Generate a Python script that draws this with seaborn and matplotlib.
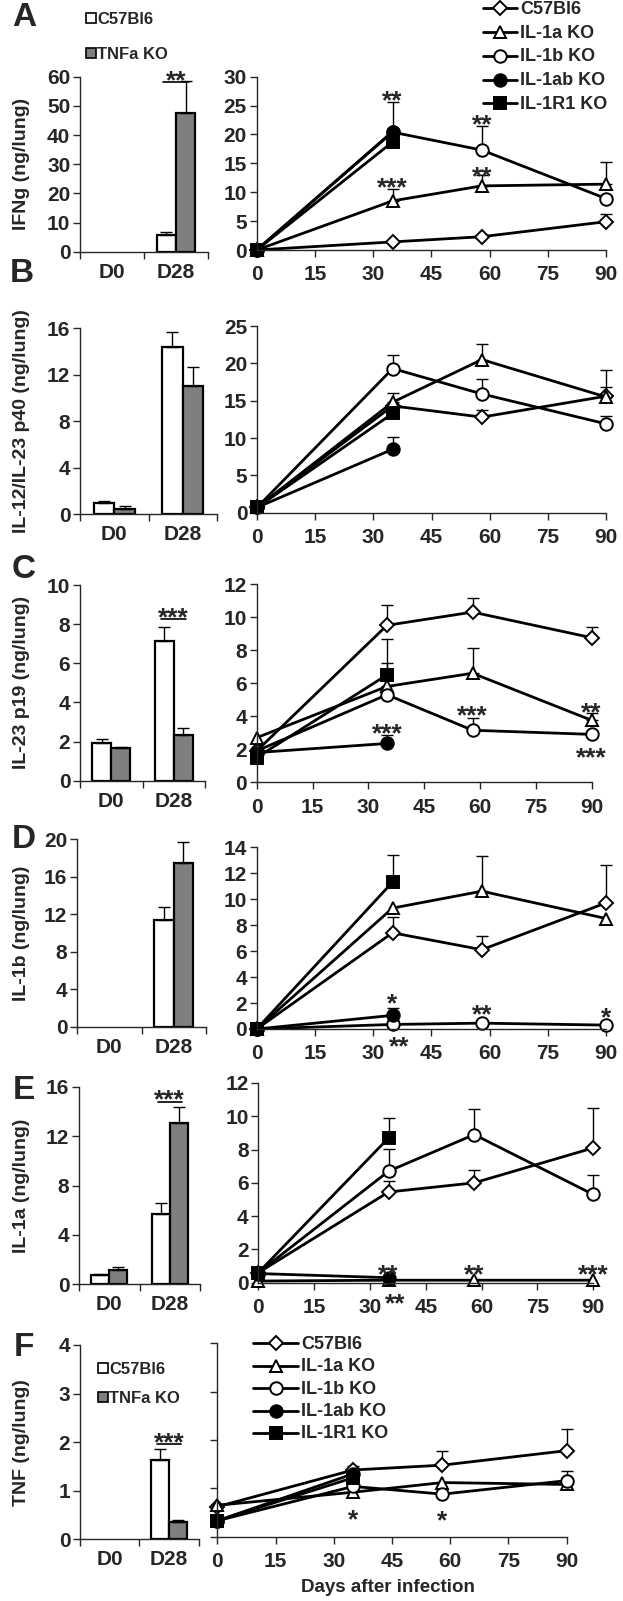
import numpy as np
import pandas as pd
import matplotlib
matplotlib.use('Agg')
import matplotlib.pyplot as plt
import seaborn as sns
from matplotlib.lines import Line2D
from matplotlib.patches import Rectangle

nan = np.nan

days = [0, 35, 58, 90]
strains = ['C57Bl6', 'IL-1a KO', 'IL-1b KO', 'IL-1ab KO', 'IL-1R1 KO']
bar_days = ['D0', 'D28']
bar_strains = ['C57Bl6', 'TNFa KO']

# A - IFNg
ifng_bar = {'C57Bl6': [0, 5.8], 'TNFa KO': [0, 47.4]}
ifng_bar_err = {'C57Bl6': [nan, 0.9], 'TNFa KO': [nan, 11.1]}
ifng = {'C57Bl6': [0, 1.4, 2.3, 4.9],
        'IL-1a KO': [0, 8.5, 11.1, 11.4],
        'IL-1b KO': [0, 20.4, 17.3, 8.9],
        'IL-1ab KO': [0, 20.5, nan, nan],
        'IL-1R1 KO': [0, 18.7, nan, nan]}
ifng_err = {'C57Bl6': [nan, nan, nan, 1.3],
            'IL-1a KO': [nan, 2.1, 1.9, 3.9],
            'IL-1b KO': [nan, nan, 4.2, 0.7],
            'IL-1ab KO': [nan, 5.1, nan, nan],
            'IL-1R1 KO': [nan, nan, nan, nan]}
ifng_stars = [(35, 27.1, '**'), (58, 23.1, '**'), (35, 12.1, '***'), (58, 14.1, '**')]

# B - IL-12/IL-23 p40
p40_bar = {'C57Bl6': [0.92, 14.4], 'TNFa KO': [0.46, 11.05]}
p40_bar_err = {'C57Bl6': [0.23, 1.3], 'TNFa KO': [0.23, 1.65]}
p40 = {'C57Bl6': [0.7, 14.3, 12.8, 15.6],
       'IL-1a KO': [0.7, 14.8, 20.5, 15.5],
       'IL-1b KO': [0.7, 19.3, 15.9, 11.9],
       'IL-1ab KO': [0.7, 8.5, nan, nan],
       'IL-1R1 KO': [0.7, 13.3, nan, nan]}
p40_err = {'C57Bl6': [nan, nan, 1.0, 1.2],
           'IL-1a KO': [nan, 1.2, 2.1, 3.6],
           'IL-1b KO': [nan, 1.8, 2.0, 1.1],
           'IL-1ab KO': [nan, 1.7, nan, nan],
           'IL-1R1 KO': [nan, nan, nan, nan]}
p40_stars = []

# C - IL-23 p19
p19_bar = {'C57Bl6': [1.95, 7.15], 'TNFa KO': [1.65, 2.35]}
p19_bar_err = {'C57Bl6': [0.2, 0.7], 'TNFa KO': [0.08, 0.35]}
p19 = {'C57Bl6': [1.9, 9.5, 10.3, 8.75],
       'IL-1a KO': [2.7, 5.8, 6.6, 3.75],
       'IL-1b KO': [1.9, 5.3, 3.15, 2.9],
       'IL-1ab KO': [1.8, 2.35, nan, nan],
       'IL-1R1 KO': [1.5, 6.5, nan, nan]}
p19_err = {'C57Bl6': [nan, 1.2, 0.85, 0.65],
           'IL-1a KO': [nan, 1.4, 1.5, 0.45],
           'IL-1b KO': [nan, nan, 0.75, nan],
           'IL-1ab KO': [nan, 0.5, nan, nan],
           'IL-1R1 KO': [nan, 2.2, nan, nan]}
p19_stars = [(35, 3.4, '***'), (58, 4.5, '***'), (90, 4.7, '**'), (90, 1.95, '***')]

# D - IL-1b
il1b_bar = {'C57Bl6': [0, 11.4], 'TNFa KO': [0, 17.5]}
il1b_bar_err = {'C57Bl6': [nan, 1.4], 'TNFa KO': [nan, 2.2]}
il1b = {'C57Bl6': [0, 7.4, 6.1, 9.7],
        'IL-1a KO': [0, 9.3, 10.6, 8.5],
        'IL-1b KO': [0, 0.35, 0.45, 0.3],
        'IL-1ab KO': [0, 1.05, nan, nan],
        'IL-1R1 KO': [0, 11.3, nan, nan]}
il1b_err = {'C57Bl6': [nan, 1.2, 1.05, 2.9],
            'IL-1a KO': [nan, nan, 2.7, nan],
            'IL-1b KO': [nan, nan, nan, nan],
            'IL-1ab KO': [nan, 0.6, nan, nan],
            'IL-1R1 KO': [nan, 2.1, nan, nan]}
il1b_stars = [(35, 2.5, '*'), (58, 1.7, '**'), (90, 1.45, '*'), (36.8, -0.8, '**')]

# E - IL-1a
il1a_bar = {'C57Bl6': [0.75, 5.7], 'TNFa KO': [1.15, 13.1]}
il1a_bar_err = {'C57Bl6': [0.05, 0.9], 'TNFa KO': [0.25, 1.25]}
il1a = {'C57Bl6': [0.6, 5.45, 6.0, 8.1],
        'IL-1a KO': [0.1, 0.15, 0.15, 0.15],
        'IL-1b KO': [0.6, 6.7, 8.9, 5.3],
        'IL-1ab KO': [0.55, 0.3, nan, nan],
        'IL-1R1 KO': [0.6, 8.7, nan, nan]}
il1a_err = {'C57Bl6': [nan, 0.65, 0.75, 2.4],
            'IL-1a KO': [nan, nan, nan, nan],
            'IL-1b KO': [nan, 1.35, 1.55, 1.2],
            'IL-1ab KO': [nan, nan, nan, nan],
            'IL-1R1 KO': [nan, 1.2, nan, nan]}
il1a_stars = [(35, 0.95, '**'), (58, 0.95, '**'), (90, 0.95, '***'), (36.8, -0.8, '**')]

# F - TNF
tnf_bar = {'C57Bl6': [0, 1.63], 'TNFa KO': [0, 0.36]}
tnf_bar_err = {'C57Bl6': [nan, 0.23], 'TNFa KO': [nan, 0.04]}
tnf = {'C57Bl6': [0.62, 1.38, 1.48, 1.78],
       'IL-1a KO': [0.65, 0.92, 1.12, 1.08],
       'IL-1b KO': [0.33, 1.04, 0.88, 1.16],
       'IL-1ab KO': [0.33, 1.3, nan, nan],
       'IL-1R1 KO': [0.33, 1.22, nan, nan]}
tnf_err = {'C57Bl6': [nan, 0.08, 0.3, 0.45],
           'IL-1a KO': [nan, nan, nan, nan],
           'IL-1b KO': [nan, nan, nan, 0.2],
           'IL-1ab KO': [nan, nan, nan, nan],
           'IL-1R1 KO': [nan, nan, nan, nan]}
tnf_stars = [(35, 0.52, '*'), (58, 0.5, '*')]

sns.set_style('ticks')
plt.rcParams['font.family'] = ['Liberation Sans', 'DejaVu Sans']
plt.rcParams['font.weight'] = 'bold'
plt.rcParams['axes.linewidth'] = 1.0

TICK = 15
LEG = 13
STAR = 19
GREY = '#7f7f7f'

W, H = 623, 1601
fig = plt.figure(figsize=(W / 100, H / 100), dpi=100)

markers = {'C57Bl6': ('D', 'white', 7),
           'IL-1a KO': ('^', 'white', 9),
           'IL-1b KO': ('o', 'white', 9),
           'IL-1ab KO': ('o', 'black', 9),
           'IL-1R1 KO': ('s', 'black', 8)}

# letter, ylabel, bar data, line data, axis ranges, sig, boxes (left, right, top, bottom px)
panels = [
    ('A', 'IFNg (ng/lung)', ifng_bar, ifng_bar_err, 60, 10, (58.3, '**'),
     ifng, ifng_err, 30, 5, ifng_stars, (80, 208, 76.7, 251.7), (256.7, 606, 76.7, 250), (24, 18)),
    ('B', 'IL-12/IL-23 p40 (ng/lung)', p40_bar, p40_bar_err, 16, 4, None,
     p40, p40_err, 25, 5, p40_stars, (80, 217, 328.3, 514), (257, 606, 326, 512.7), (22, 273)),
    ('C', 'IL-23 p19 (ng/lung)', p19_bar, p19_bar_err, 10, 2, (8.25, '***'),
     p19, p19_err, 12, 2, p19_stars, (80, 205, 585, 780.7), (256.7, 591.7, 584, 782.3), (24, 570)),
    ('D', 'IL-1b (ng/lung)', il1b_bar, il1b_bar_err, 20, 4, None,
     il1b, il1b_err, 14, 2, il1b_stars, (77, 206, 839.3, 1026.7), (256.7, 606, 847, 1029), (24, 840)),
    ('E', 'IL-1a (ng/lung)', il1a_bar, il1a_bar_err, 16, 4, (14.8, '***'),
     il1a, il1a_err, 12, 2, il1a_stars, (79, 200, 1086.7, 1284.3), (258.3, 593.3, 1083, 1282.7), (24, 1090)),
    ('F', 'TNF (ng/lung)', tnf_bar, tnf_bar_err, 4, 1, (1.96, '***'),
     tnf, tnf_err, 4, 1, tnf_stars, (80, 199, 1345, 1539.3), (217.3, 566.7, 1343.3, 1536.7), (24, 1347)),
]


def fx(px):
    return px / W


def fy(py):
    return 1 - py / H


def add_box(box):
    l, r, t, b = box
    return fig.add_axes([fx(l), fy(b), (r - l) / W, (b - t) / H])


def put_stars(ax, x, y, txt, dy=0):
    ax.annotate(txt, (x, y), xytext=(0, dy - 0.58 * STAR), textcoords='offset points',
                ha='center', va='baseline', fontsize=STAR, fontweight='bold',
                annotation_clip=False)


def draw_bars(ax, vals, errs, ymax, step, sig):
    df = pd.DataFrame({'day': [d for s in bar_strains for d in bar_days],
                       'strain': [s for s in bar_strains for d in bar_days],
                       'val': [v for s in bar_strains for v in vals[s]]})
    sns.barplot(data=df, x='day', y='val', hue='strain', order=bar_days,
                hue_order=bar_strains, palette=['white', GREY], saturation=1,
                edgecolor='black', linewidth=1.6, width=0.6, errorbar=None,
                legend=False, ax=ax)
    for cont, s in zip(ax.containers, bar_strains):
        for rect, e in zip(cont, errs[s]):
            if rect.get_height() == 0:
                rect.set_visible(False)
            if np.isnan(e):
                continue
            ax.errorbar(rect.get_x() + rect.get_width() / 2, rect.get_height(),
                        yerr=[[0], [e]], fmt='none', ecolor='black', elinewidth=1,
                        capsize=4, capthick=1, clip_on=False)
    if sig is not None:
        ax.plot([0.8, 1.2], [sig[0], sig[0]], color='black', lw=1.2, clip_on=False)
        put_stars(ax, 1, sig[0], sig[1], dy=6.5)
    ax.set_xlim(-0.5, 1.5)
    ax.set_ylim(0, ymax)
    ax.set_yticks(np.arange(0, ymax + 0.01, step))
    ax.set_xticks([-0.5, 0.5, 1.5])
    ax.set_xticklabels([])
    ax.set_xticks([0, 1], minor=True)
    ax.set_xticklabels(bar_days, minor=True)
    ax.tick_params(axis='x', which='minor', length=0, pad=8, labelsize=TICK)
    ax.tick_params(axis='both', which='major', length=5, width=1, labelsize=TICK, pad=2)
    ax.set_xlabel('')
    ax.set_ylabel('')
    sns.despine(ax=ax)


def draw_lines(ax, vals, errs, ymax, step, stars, ylabels=True):
    for s in strains:
        m, fc, ms = markers[s]
        x = [d for d, v in zip(days, vals[s]) if not np.isnan(v)]
        y = [v for v in vals[s] if not np.isnan(v)]
        for d, v, e in zip(days, vals[s], errs[s]):
            if not np.isnan(e):
                ax.errorbar(d, v, yerr=[[0], [e]], fmt='none', ecolor='black',
                            elinewidth=1, capsize=4, capthick=1, clip_on=False, zorder=1.5)
        sns.lineplot(x=x, y=y, ax=ax, color='black', lw=2, marker=m, markersize=ms,
                     markerfacecolor=fc, markeredgecolor='black', markeredgewidth=1.4,
                     clip_on=False, errorbar=None, legend=False)
    for x, y, txt in stars:
        put_stars(ax, x, y, txt)
    ax.set_xlim(0, 90)
    ax.set_xticks(range(0, 91, 15))
    ax.set_ylim(0, ymax)
    ax.set_yticks(np.arange(0, ymax + 0.01, step))
    if not ylabels:
        ax.set_yticklabels([])
    ax.tick_params(axis='both', length=5, width=1, labelsize=TICK)
    ax.tick_params(axis='x', pad=6)
    ax.tick_params(axis='y', pad=2)
    ax.set_xlabel('')
    ax.set_ylabel('')
    sns.despine(ax=ax)


for (letter, ylab, bv, be, bmax, bstep, sig, lv, le, lmax, lstep, stars,
     bbox, lbox, lpos) in panels:
    axb = add_box(bbox)
    draw_bars(axb, bv, be, bmax, bstep, sig)
    axl = add_box(lbox)
    draw_lines(axl, lv, le, lmax, lstep, stars, ylabels=(letter != 'F'))
    yc = (bbox[2] + bbox[3]) / 2
    fig.text(fx(22), fy(yc), ylab, rotation=90, ha='center', va='center',
             fontsize=14, fontweight='bold')
    fig.text(fx(lpos[0]), fy(lpos[1]), letter, ha='center', va='center',
             fontsize=24, fontweight='bold')

fig.text(fx(388), fy(1587), 'Days after infection', ha='center', va='center',
         fontsize=13.5, fontweight='bold')


def line_legend(x0, x1, y0, pitch):
    for i, s in enumerate(strains):
        m, fc, ms = markers[s]
        y = y0 + i * pitch
        fig.add_artist(Line2D([fx(x0), fx(x1)], [fy(y), fy(y)], color='black', lw=2,
                              transform=fig.transFigure))
        fig.add_artist(Line2D([fx((x0 + x1) / 2)], [fy(y)], linestyle='none', marker=m,
                              markersize=ms, markerfacecolor=fc, markeredgecolor='black',
                              markeredgewidth=1.4, transform=fig.transFigure))
        fig.text(fx(x1 + 3), fy(y + 1), s, ha='left', va='center', fontsize=LEG,
                 fontweight='bold')


def bar_legend(x0, y0, pitch):
    for i, (s, c) in enumerate(zip(bar_strains, ['white', GREY])):
        y = y0 + i * pitch
        fig.add_artist(Rectangle((fx(x0), fy(y + 5)), 10 / W, 10 / H, facecolor=c,
                                 edgecolor='black', lw=1.2, transform=fig.transFigure))
        fig.text(fx(x0 + 11), fy(y + 1), s, ha='left', va='center', fontsize=12,
                 fontweight='bold')


line_legend(483, 517, 8.3, 23.75)
line_legend(253, 298, 1343, 22.5)
bar_legend(86, 18.3, 35)
bar_legend(98, 1368, 29)

fig.savefig('out.png', dpi=100)
